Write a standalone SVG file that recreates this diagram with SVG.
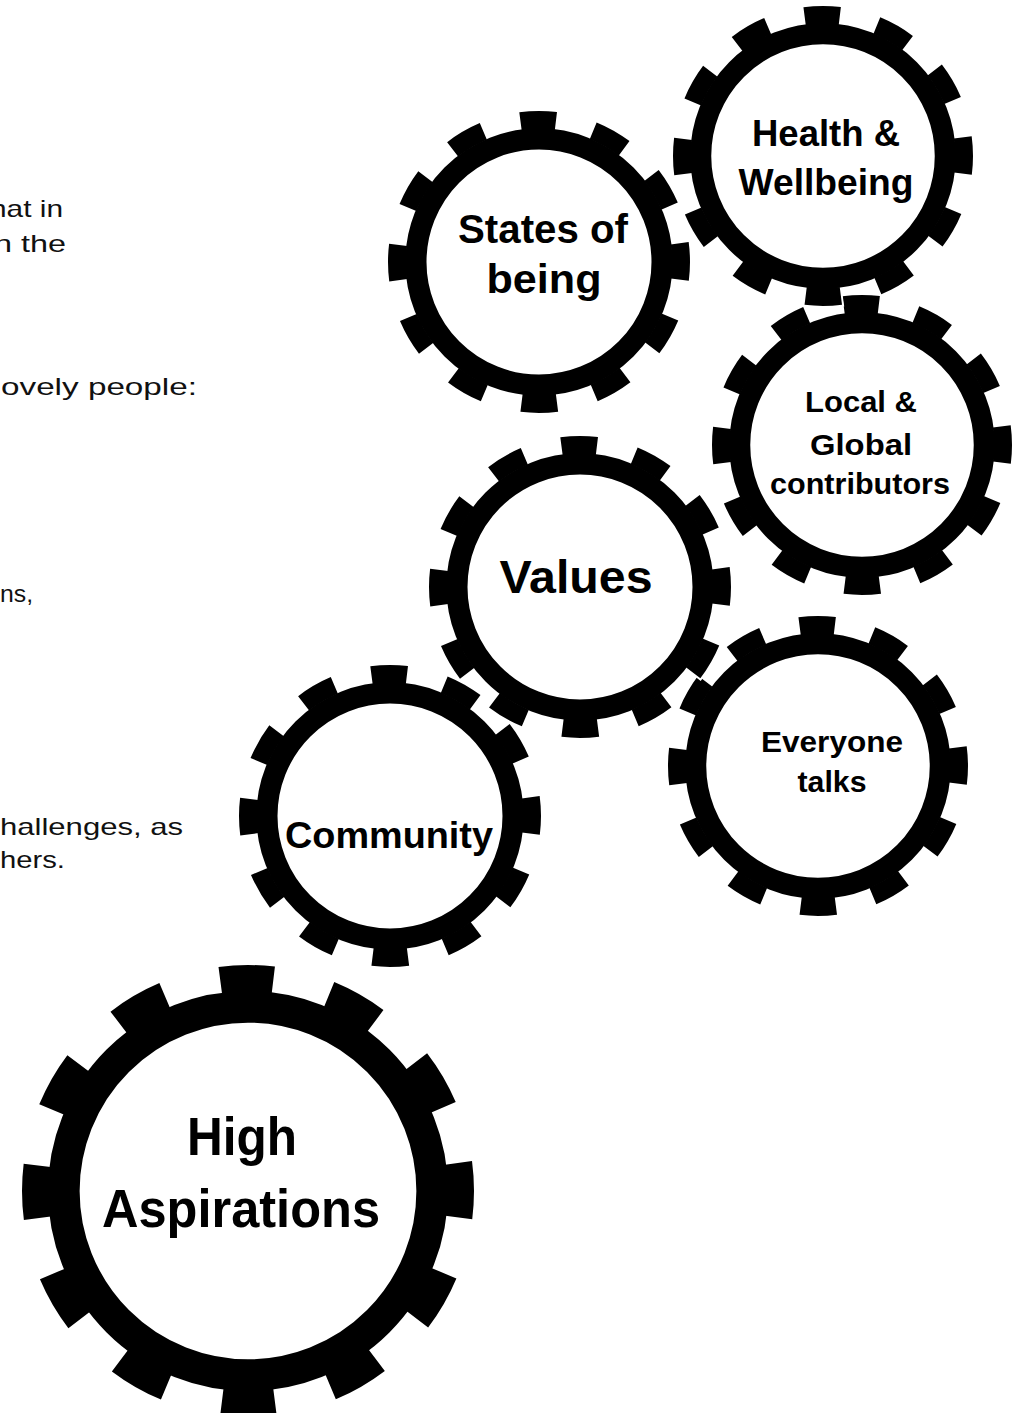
<svg xmlns="http://www.w3.org/2000/svg" width="1026" height="1413" viewBox="0 0 1026 1413">
<style>
.lbl{font-family:"Liberation Sans",Arial,sans-serif;font-weight:bold;fill:#000;text-anchor:middle}
.side{font-family:"Liberation Sans",Arial,sans-serif;fill:#111;font-size:24px}
</style>
<defs>
<g id="gear">
<circle r="89.8" fill="#fff"/>
<circle r="95" fill="none" stroke="#fff" stroke-width="12.6" pathLength="360" stroke-dasharray="15.9 14.1" stroke-dashoffset="7.95"/>
<circle r="81.5" fill="#fff" stroke="#000" stroke-width="14"/>
<circle r="94" fill="none" stroke="#000" stroke-width="12" pathLength="360" stroke-dasharray="14.4 15.6" stroke-dashoffset="7.2"/>
</g>
</defs>
<rect width="1026" height="1413" fill="#fff"/>
<g id="side-text">
<text class="side" x="-10" y="217" textLength="73" lengthAdjust="spacingAndGlyphs">hat in</text>
<text class="side" x="-6" y="252" textLength="72" lengthAdjust="spacingAndGlyphs">n the</text>
<text class="side" x="1" y="395" textLength="196" lengthAdjust="spacingAndGlyphs">ovely people:</text>
<text class="side" x="0" y="602" textLength="33" lengthAdjust="spacingAndGlyphs">ns,</text>
<text class="side" x="0" y="835" textLength="183" lengthAdjust="spacingAndGlyphs">hallenges, as</text>
<text class="side" x="0" y="868" textLength="65" lengthAdjust="spacingAndGlyphs">hers.</text>
</g>
<g id="connectors"/>
<g id="local-global">
<use href="#gear" transform="translate(862,445) scale(1.5)"/>
<text class="lbl" font-size="30" x="861" y="412" textLength="112" lengthAdjust="spacingAndGlyphs">Local &amp;</text>
<text class="lbl" font-size="30" x="861" y="455" textLength="102" lengthAdjust="spacingAndGlyphs">Global</text>
<text class="lbl" font-size="30" x="860" y="494" textLength="180" lengthAdjust="spacingAndGlyphs">contributors</text>
</g>
<g id="health-wellbeing">
<use href="#gear" transform="translate(823,156) scale(1.5)"/>
<text class="lbl" font-size="36" x="826" y="146" textLength="148" lengthAdjust="spacingAndGlyphs">Health &amp;</text>
<text class="lbl" font-size="36" x="826" y="195" textLength="175" lengthAdjust="spacingAndGlyphs">Wellbeing</text>
</g>
<g id="states-of-being">
<use href="#gear" transform="translate(539,262) scale(1.51)"/>
<text class="lbl" font-size="40" x="543" y="243" textLength="170" lengthAdjust="spacingAndGlyphs">States of</text>
<text class="lbl" font-size="40" x="544" y="293" textLength="115" lengthAdjust="spacingAndGlyphs">being</text>
</g>
<g id="everyone-talks">
<use href="#gear" transform="translate(818,766) scale(1.5)"/>
<text class="lbl" font-size="30" x="832" y="752" textLength="142" lengthAdjust="spacingAndGlyphs">Everyone</text>
<text class="lbl" font-size="30" x="832" y="792" textLength="69" lengthAdjust="spacingAndGlyphs">talks</text>
</g>
<g id="community">
<use href="#gear" transform="translate(390,816) scale(1.51)"/>
<text class="lbl" font-size="36" x="389" y="848" textLength="208" lengthAdjust="spacingAndGlyphs">Community</text>
</g>
<g id="values">
<use href="#gear" transform="translate(580,587) scale(1.51)"/>
<text class="lbl" font-size="46" x="576" y="593" textLength="153" lengthAdjust="spacingAndGlyphs">Values</text>
</g>
<g id="high-aspirations">
<use href="#gear" transform="translate(248,1191) scale(2.26)"/>
<text class="lbl" font-size="54" x="242" y="1155" textLength="110" lengthAdjust="spacingAndGlyphs">High</text>
<text class="lbl" font-size="54" x="241" y="1227" textLength="278" lengthAdjust="spacingAndGlyphs">Aspirations</text>
</g>
</svg>
